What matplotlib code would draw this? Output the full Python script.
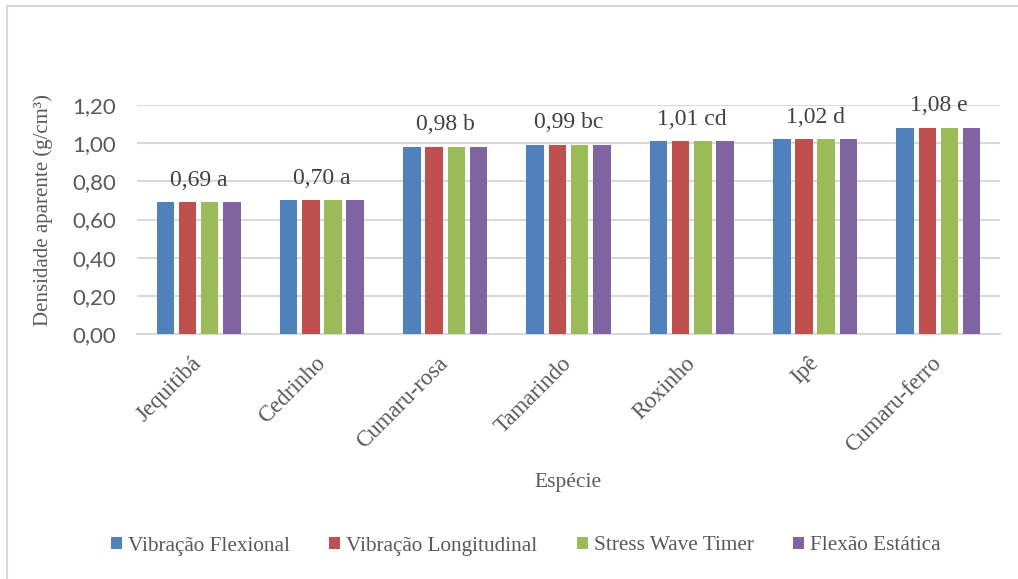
import matplotlib
matplotlib.use("Agg")
import matplotlib.pyplot as plt
from matplotlib.lines import Line2D
import numpy as np

especies = ["Jequitibá", "Cedrinho", "Cumaru-rosa", "Tamarindo", "Roxinho", "Ipê", "Cumaru-ferro"]
series = ["Vibração Flexional", "Vibração Longitudinal", "Stress Wave Timer", "Flexão Estática"]
densidade = [0.69, 0.70, 0.98, 0.99, 1.01, 1.02, 1.08]
vib_flexional = densidade
vib_longitudinal = densidade
stress_wave = densidade
flexao_estatica = densidade
letras = ["a", "a", "b", "bc", "cd", "d", "e"]
y_ticks = [0.0, 0.2, 0.4, 0.6, 0.8, 1.0, 1.2]

cores = ["#4f81bd", "#c0504d", "#9bbb59", "#8064a2"]
texto = "#595959"
serif = "Liberation Serif"
sans = "Lato"

W, H = 1018, 579
fig = plt.figure(figsize=(W / 100, H / 100), dpi=100)

# chart frame (top and left edges)
frame = dict(transform=fig.transFigure, color="#d9d9d9", linewidth=1.5, zorder=0)
fig.add_artist(Line2D([7 / W, 1.0], [1 - 6 / H, 1 - 6 / H], **frame))
fig.add_artist(Line2D([7 / W, 7 / W], [0.0, 1 - 6 / H], **frame))

ax = fig.add_axes([137 / W, (H - 334) / H, (1000 - 137) / W, (334 - 105) / H])

x = np.arange(len(especies))
passo = 0.18
largura = 0.142
valores = [vib_flexional, vib_longitudinal, stress_wave, flexao_estatica]
for k, (nome, vals, cor) in enumerate(zip(series, valores, cores)):
    ax.bar(x + (k - 1.5) * passo, vals, largura, color=cor, label=nome, zorder=3)

for xi, v, l in zip(x, densidade, letras):
    ax.annotate(f"{v:.2f}".replace(".", ",") + " " + l, (xi, v),
                xytext=(0, 16), textcoords="offset points",
                ha="center", va="center", fontsize=17, family=serif,
                color="#404040", zorder=4)

ax.set_xlim(-0.5, len(especies) - 0.5)
ax.set_ylim(0, 1.2)
ax.set_yticks(y_ticks)
ax.set_yticklabels([f"{t:.2f}".replace(".", ",") for t in y_ticks],
                   family=sans, fontsize=16, color=texto)
ax.yaxis.grid(True, color="#d9d9d9", linewidth=1.5, zorder=0)
ax.set_axisbelow(True)
ax.tick_params(axis="y", length=0, pad=15)
ax.tick_params(axis="x", length=0, pad=19)
for s in ["top", "right", "left"]:
    ax.spines[s].set_visible(False)
ax.spines["bottom"].set_color("#d9d9d9")
ax.spines["bottom"].set_linewidth(1.5)

ax.set_xticks(x)
ax.set_xticklabels(especies, rotation=45, ha="right", va="center",
                   rotation_mode="anchor", family=serif, fontsize=16.5, color=texto)

fig.text(43 / W, 1 - 210 / H, "Densidade aparente (g/cm³)", rotation=90,
         ha="center", va="center", family=serif, fontsize=15, color=texto)
fig.text(568 / W, 1 - 482 / H, "Espécie", ha="center", va="center",
         family=serif, fontsize=15.5, color=texto)

leg = fig.legend(loc="center", bbox_to_anchor=(526 / W, 1 - 546 / H), ncol=4,
                 frameon=False, prop={"family": serif, "size": 15.3},
                 handlelength=0.5, handleheight=0.5, handletextpad=0.3,
                 columnspacing=1.85)
for t in leg.get_texts():
    t.set_color(texto)
    t.set_fontfamily(serif)

fig.savefig("out.png", dpi=100)
